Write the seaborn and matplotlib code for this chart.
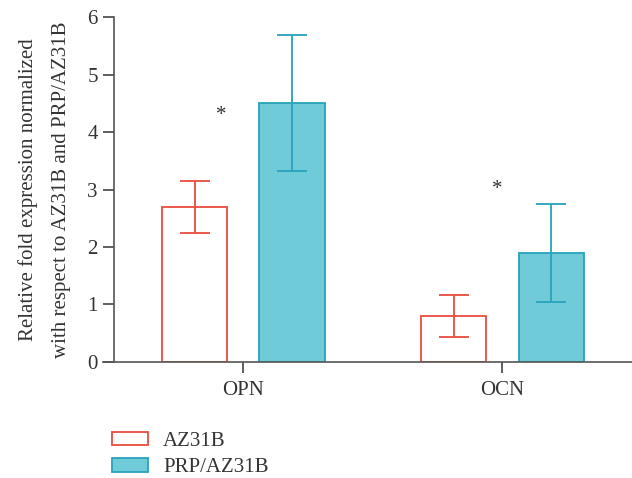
import pandas as pd
import numpy as np
import matplotlib
matplotlib.use("Agg")
import matplotlib.pyplot as plt
import seaborn as sns

genes = ["OPN", "OCN"]
groups = ["AZ31B", "PRP/AZ31B"]
az_mean = [2.7, 0.8]
az_err = [0.45, 0.36]
prp_mean = [4.5, 1.9]
prp_err = [1.18, 0.85]
y_ticks = [0, 1, 2, 3, 4, 5, 6]

df = pd.DataFrame({
    "gene": genes * 2,
    "group": [groups[0]] * 2 + [groups[1]] * 2,
    "value": az_mean + prp_mean,
})
errs = [az_err, prp_err]

red = "#ec4b3f"
teal_fill = "#70cbd9"
teal_edge = "#27a3bb"

sns.set_style("white")
plt.rcParams["font.family"] = ["Liberation Serif", "DejaVu Serif"]

fig = plt.figure(figsize=(6.32, 4.78), dpi=100)
ax = fig.add_axes([0.163, 0.2427, 0.837, 0.7217])

sns.barplot(data=df, x="gene", y="value", hue="group", order=genes, hue_order=groups,
            width=0.75, gap=0.33, errorbar=None, ax=ax, legend=False)

styles = [
    dict(facecolor="white", edgecolor=red, ecolor=red),
    dict(facecolor=teal_fill, edgecolor=teal_edge, ecolor=teal_edge),
]
for cont, st, err in zip(ax.containers, styles, errs):
    xs, ys = [], []
    for bar in cont:
        bar.set_facecolor(st["facecolor"])
        bar.set_edgecolor(st["edgecolor"])
        bar.set_linewidth(1.3)
        xs.append(bar.get_x() + bar.get_width() / 2)
        ys.append(bar.get_height())
    ax.errorbar(xs, ys, yerr=err, fmt="none", ecolor=st["ecolor"],
                elinewidth=1.3, capsize=11, capthick=1.3, zorder=3)

# significance marks
ax.text(-0.085, 4.28, "*", ha="center", va="center", fontsize=15, color="#333333")
ax.text(0.98, 3.0, "*", ha="center", va="center", fontsize=15, color="#333333")

ax.set_xlim(-0.542, 1.5)
ax.set_ylim(0, 6)
ax.set_yticks(y_ticks)
ax.spines["left"].set_position(("data", -0.5))
for s in ["top", "right"]:
    ax.spines[s].set_visible(False)
for s in ["left", "bottom"]:
    ax.spines[s].set_color("#555555")
    ax.spines[s].set_linewidth(1.2)
ax.tick_params(axis="both", direction="out", length=8, width=1.1, color="#333333",
               labelsize=15, labelcolor="#333333", left=True, bottom=True)
ax.tick_params(axis="x", pad=6)
ax.set_xlabel("")
ax.set_ylabel("Relative fold expression normalized\nwith respect to AZ31B and PRP/AZ31B",
              fontsize=15, color="#333333", linespacing=1.95, labelpad=12)

handles = [ax.containers[0][0], ax.containers[1][0]]
fig.legend(handles, groups, loc="upper left", bbox_to_anchor=(0.177, 0.096),
           frameon=False, fontsize=15, handlelength=1.75, handleheight=0.6,
           handletextpad=0.7, labelspacing=0.35, borderaxespad=0, borderpad=0,
           labelcolor="#333333")

fig.savefig("out.png", dpi=100)
